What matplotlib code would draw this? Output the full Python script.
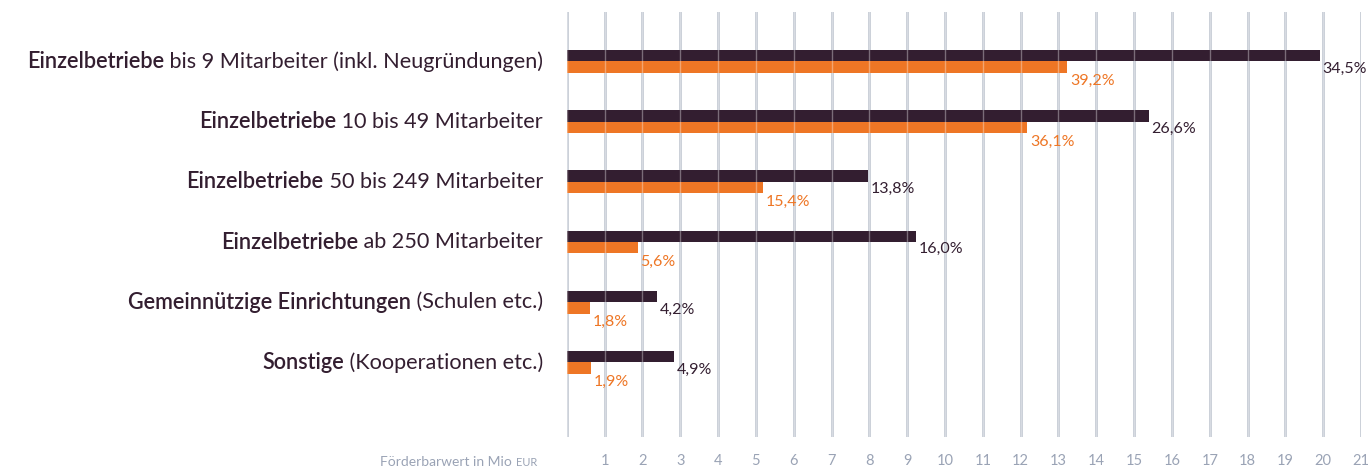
import matplotlib
matplotlib.use("Agg")
import matplotlib.pyplot as plt
import numpy as np

# ---- data ----
cat_bold = ["Einzelbetriebe", "Einzelbetriebe", "Einzelbetriebe", "Einzelbetriebe",
            "Gemeinnützige Einrichtungen", "Sonstige"]
cat_rest = ["bis 9 Mitarbeiter (inkl. Neugründungen)", "10 bis 49 Mitarbeiter",
            "50 bis 249 Mitarbeiter", "ab 250 Mitarbeiter",
            "(Schulen etc.)", "(Kooperationen etc.)"]
dark_values = [19.90, 15.38, 7.97, 9.24, 2.40, 2.84]
orange_values = [13.23, 12.18, 5.19, 1.88, 0.61, 0.64]
dark_labels = ["34,5%", "26,6%", "13,8%", "16,0%", "4,2%", "4,9%"]
orange_labels = ["39,2%", "36,1%", "15,4%", "5,6%", "1,8%", "1,9%"]
xticks = list(range(1, 22))
xlabel_text = "Förderbarwert in Mio"
xlabel_unit = "EUR"

DARK = "#331e30"
ORANGE = "#ee7625"
GRID = "#c3c9d3"
TICKC = "#9aa3b5"
FONT = "Lato"

W, H = 1370, 471
fig = plt.figure(figsize=(W / 100, H / 100), dpi=100)
ax_left = 566.7 / W
ax_w = (21 * 37.83) / W
ax_top = 12
ax_bot = 437
ax = fig.add_axes([ax_left, 1 - ax_bot / H, ax_w, (ax_bot - ax_top) / H])

n = len(dark_values)
y = np.arange(n)
bh = 0.19
ax.barh(y - bh / 2, dark_values, height=bh, color=DARK, zorder=2)
ax.barh(y + bh / 2, orange_values, height=bh, color=ORANGE, zorder=2)

ax.set_xlim(0, 21)
ax.set_ylim(6.24, -0.822)

# grid lines below and light overlay on bars
for xv in [0] + xticks:
    ax.axvline(xv, color=GRID, lw=2.0, zorder=1)
    ax.axvline(xv, color="white", lw=1.0, alpha=0.35, zorder=3)

for s in ax.spines.values():
    s.set_visible(False)
ax.set_yticks([])
ax.set_xticks(xticks)
ax.set_xticklabels([str(t) for t in xticks], fontsize=10.5, color=TICKC, family=FONT)
ax.tick_params(axis="x", length=0, pad=12)

# value labels
for i in range(n):
    ax.text(dark_values[i] + 0.07, y[i] + 0.12, dark_labels[i], color=DARK,
            fontsize=11.5, family=FONT, ha="left", va="center", zorder=4)
    ax.text(orange_values[i] + 0.07, y[i] + 0.33, orange_labels[i], color=ORANGE,
            fontsize=11.5, family=FONT, ha="left", va="center", zorder=4)

# category labels (bold + regular)
fig.canvas.draw()
renderer = fig.canvas.get_renderer()
right_px = 543
for i in range(n):
    ypx = ax.transData.transform((0, y[i]))[1]
    t_rest = fig.text(right_px / W, ypx / H, " " + cat_rest[i], fontsize=15.6,
                      family=FONT, color=DARK, ha="right", va="center")
    bb = t_rest.get_window_extent(renderer=renderer)
    fig.text(bb.x0 / W, ypx / H, cat_bold[i], fontsize=15.6, family=FONT,
             weight="semibold", color=DARK, ha="right", va="center")

# axis title at tick label row
base_y = 1 - 466 / H
t_unit = fig.text(537 / W, base_y, xlabel_unit, fontsize=8, family=FONT,
                  color=TICKC, ha="right", va="baseline")
bb = t_unit.get_window_extent(renderer=renderer)
fig.text(bb.x0 / W, base_y, xlabel_text + " ", fontsize=10, family=FONT,
         color=TICKC, ha="right", va="baseline")

fig.savefig("out.png", dpi=100)
